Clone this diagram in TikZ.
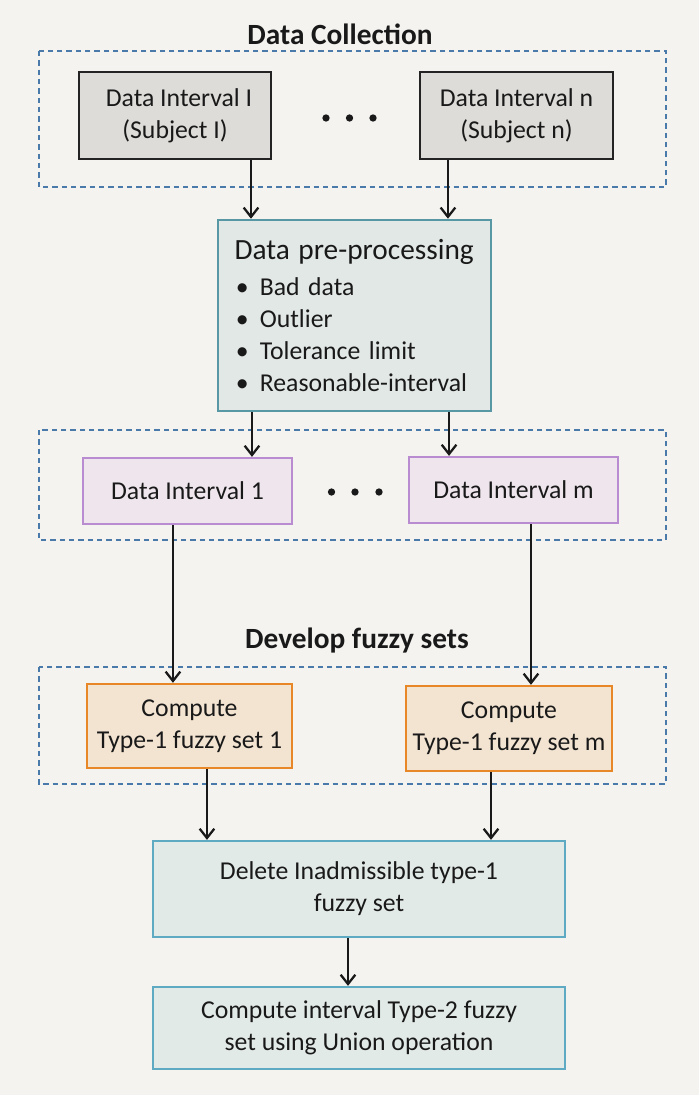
\documentclass[tikz,border=0pt]{standalone}
\usepackage{fontspec}
\setmainfont{Carlito}
\usetikzlibrary{arrows.meta}
\definecolor{bg}{RGB}{244,243,240}
\definecolor{grayfill}{RGB}{221,220,216}
\definecolor{grayline}{RGB}{35,35,35}
\definecolor{prefill}{RGB}{226,232,230}
\definecolor{preline}{RGB}{88,152,165}
\definecolor{purfill}{RGB}{238,230,236}
\definecolor{purline}{RGB}{185,140,210}
\definecolor{orfill}{RGB}{243,228,210}
\definecolor{orline}{RGB}{232,135,40}
\definecolor{bluefill}{RGB}{226,234,232}
\definecolor{blueline}{RGB}{95,170,195}
\definecolor{dashcol}{RGB}{74,122,170}
\definecolor{txt}{RGB}{25,25,25}
\begin{document}
\begin{tikzpicture}[x=0.75pt,y=-0.75pt,
  every node/.style={text=txt},
  bodyfont/.style={font=\fontsize{19.3}{24}\selectfont},
  titlefont/.style={font=\fontsize{22}{26}\selectfont\bfseries},
  graybox/.style={draw=grayline,fill=grayfill,line width=1.9pt,bodyfont,align=center,inner sep=0pt},
  prebox/.style={draw=preline,fill=prefill,line width=1.9pt,bodyfont,align=left,text width=180pt,inner xsep=12.4pt,inner ysep=0pt},
  purbox/.style={draw=purline,fill=purfill,line width=1.7pt,bodyfont,align=center,inner sep=0pt},
  orbox/.style={draw=orline,fill=orfill,line width=1.8pt,bodyfont,align=center,inner sep=0pt},
  bluebox/.style={draw=blueline,fill=bluefill,line width=1.7pt,bodyfont,align=center,inner sep=0pt},
  groupbox/.style={draw=dashcol,line width=1pt,dash pattern=on 4pt off 3pt},
  dotc/.style={circle,fill=txt,inner sep=0pt,minimum size=5.5pt},
  arr/.style={draw=txt,line width=1.7pt,-{Straight Barb[length=7pt,width=11pt,line width=1.7pt]}}
]
\useasboundingbox (0,0) rectangle (699,1095);
\fill[bg] (0,0) rectangle (699,1095);

% group frames
\draw[groupbox] (39,51) rectangle (666,187);
\draw[groupbox] (39,430) rectangle (666,540);
\draw[groupbox] (39,667) rectangle (666,784);

% titles
\node[titlefont] (t1) at (340,34) {Data Collection};
\node[titlefont] (t2) at (357,641) {Develop fuzzy sets};

% data collection
\node[graybox,minimum width=144pt,minimum height=65.25pt] (box1) at (175,115.5) {\hspace*{6pt}Data Interval I\\(Subject I)};
\node[graybox,minimum width=144.75pt,minimum height=65.25pt] (box2) at (516.5,115.5) {Data Interval n\\(Subject n)};
\node[dotc] (d1) at (326,118) {};
\node[dotc] (d2) at (349.5,118) {};
\node[dotc] (d3) at (373,118) {};

% pre-processing
\node[prebox,minimum height=143.25pt] (pre) at (354.5,315.5) {{\fontsize{22}{26}\selectfont Data pre-processing}\\[3pt]
\makebox[19pt][l]{\hspace*{1pt}\textbullet}Bad data\\
\makebox[19pt][l]{\hspace*{1pt}\textbullet}Outlier\\
\makebox[19pt][l]{\hspace*{1pt}\textbullet}Tolerance limit\\
\makebox[19pt][l]{\hspace*{1pt}\textbullet}Reasonable-interval};

% data intervals
\node[purbox,minimum width=156.75pt,minimum height=49.5pt] (di1) at (187.5,491) {Data Interval 1};
\node[purbox,minimum width=156.75pt,minimum height=49.5pt] (dim) at (513.5,490) {Data Interval m};
\node[dotc] (e1) at (331.5,492) {};
\node[dotc] (e2) at (355,492) {};
\node[dotc] (e3) at (379,492) {};

% type-1 sets
\node[orbox,minimum width=153.75pt,minimum height=63pt] (c1) at (189.5,726) {Compute\\Type-1 fuzzy set 1};
\node[orbox,minimum width=154.5pt,minimum height=63.75pt] (cm) at (509,728.5) {Compute\\Type-1 fuzzy set m};

% final steps
\node[bluebox,minimum width=309pt,minimum height=72pt] (del) at (359,889) {Delete Inadmissible type-1\\fuzzy set};
\node[bluebox,minimum width=309pt,minimum height=61.5pt] (fin) at (359,1028) {Compute interval Type-2 fuzzy\\set using Union operation};

% connectors
\draw[arr] ([xshift=57pt]box1.south) -- ([xshift=57pt]box1.south |- pre.north);
\draw[arr] ([xshift=-51.4pt]box2.south) -- ([xshift=-51.4pt]box2.south |- pre.north);
\draw[arr] ([xshift=-76.9pt]pre.south) -- ([xshift=-76.9pt]pre.south |- di1.north);
\draw[arr] ([xshift=70.9pt]pre.south) -- ([xshift=70.9pt]pre.south |- dim.north);
\draw[arr] ([xshift=-10.9pt]di1.south) -- ([xshift=-10.9pt]di1.south |- c1.north);
\draw[arr] ([xshift=13.1pt]dim.south) -- ([xshift=13.1pt]dim.south |- cm.north);
\draw[arr] ([xshift=13.1pt]c1.south) -- ([xshift=13.1pt]c1.south |- del.north);
\draw[arr] ([xshift=-13.5pt]cm.south) -- ([xshift=-13.5pt]cm.south |- del.north);
\draw[arr] ([xshift=-8.25pt]del.south) -- ([xshift=-8.25pt]del.south |- fin.north);
\end{tikzpicture}
\end{document}
